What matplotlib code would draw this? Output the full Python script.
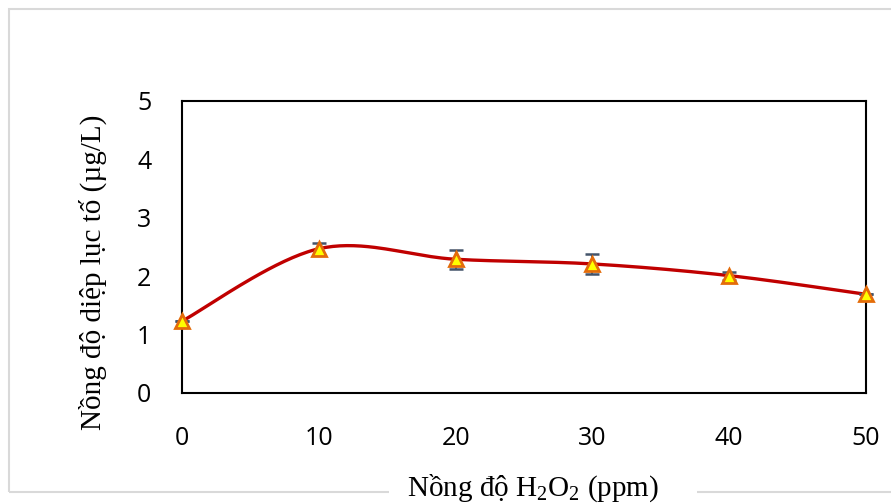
import numpy as np
import matplotlib.pyplot as plt
from matplotlib.patches import Rectangle

# data
nong_do = [0, 10, 20, 30, 40, 50]
diep_luc = [1.23, 2.47, 2.29, 2.21, 2.01, 1.69]
sai_so = [0.0, 0.10, 0.16, 0.17, 0.07, 0.0]

plt.rcParams['mathtext.fontset'] = 'custom'
plt.rcParams['mathtext.rm'] = 'Liberation Serif'
plt.rcParams['mathtext.it'] = 'Liberation Serif:italic'


def smooth_curve(x, y, n=40):
    # Catmull-Rom style smoothing, similar to Excel's smoothed line
    x = np.asarray(x, float)
    y = np.asarray(y, float)
    px = np.concatenate([[x[0]], x, [x[-1]]])
    py = np.concatenate([[y[0]], y, [y[-1]]])
    xs, ys = [], []
    for i in range(1, len(px) - 2):
        p0 = np.array([px[i - 1], py[i - 1]])
        p1 = np.array([px[i], py[i]])
        p2 = np.array([px[i + 1], py[i + 1]])
        p3 = np.array([px[i + 2], py[i + 2]])
        c1 = p1 + (p2 - p0) / 6
        c2 = p2 - (p3 - p1) / 6
        t = np.linspace(0, 1, n)[:, None]
        b = ((1 - t) ** 3) * p1 + 3 * ((1 - t) ** 2) * t * c1 + 3 * (1 - t) * t ** 2 * c2 + t ** 3 * p2
        xs.extend(b[:, 0])
        ys.extend(b[:, 1])
    return np.array(xs), np.array(ys)


fig = plt.figure(figsize=(8.91, 5.03), dpi=100)
ax = fig.add_axes([182 / 891, 1 - 393 / 503, (866 - 182) / 891, (393 - 101) / 503])

# outer chart frame
fig.patches.append(Rectangle((9 / 891, 1 - 492 / 503), 0.999, 483 / 503,
                             transform=fig.transFigure, fill=False,
                             edgecolor='#d9d9d9', linewidth=1.5))
# white gap in the frame behind the x label
fig.patches.append(Rectangle((389 / 891, 0), (697 - 389) / 891, 28 / 503,
                             transform=fig.transFigure, facecolor='white',
                             edgecolor='none', zorder=2))

sx, sy = smooth_curve(nong_do, diep_luc)
ax.plot(sx, sy, color='#c00000', linewidth=2.4, clip_on=False, zorder=3)
ax.errorbar(nong_do, diep_luc, yerr=sai_so, fmt='none', ecolor='#44546a',
            elinewidth=1.3, capsize=5, capthick=1.8, zorder=4, clip_on=False)
ax.plot(nong_do, diep_luc, linestyle='none', marker='^', markersize=10.5,
        markerfacecolor='#ffff00', markeredgecolor='#e46c0a', markeredgewidth=2,
        clip_on=False, zorder=5)

ax.set_xlim(0, 50)
ax.set_ylim(0, 5)
ax.set_xticks(nong_do)
ax.set_yticks([0, 1, 2, 3, 4, 5])
ax.tick_params(length=0, labelsize=18)
ax.tick_params(axis='y', pad=22)
ax.tick_params(axis='x', pad=24)
for lab in ax.get_xticklabels() + ax.get_yticklabels():
    lab.set_family(['Open Sans', 'DejaVu Sans'])
for s in ax.spines.values():
    s.set_linewidth(1.5)
    s.set_color('black')

fig.text(93 / 891, 1 - 272 / 503, 'Nồng độ diệp lục tố (µg/L)',
         family='Liberation Serif', fontsize=21, rotation=90,
         ha='center', va='center')
fig.text(533 / 891, 1 - 488 / 503, 'Nồng độ H$_2$O$_2$ (ppm)',
         family='Liberation Serif', fontsize=21, ha='center', va='center',
         zorder=3)

fig.savefig('out.png', dpi=100)
